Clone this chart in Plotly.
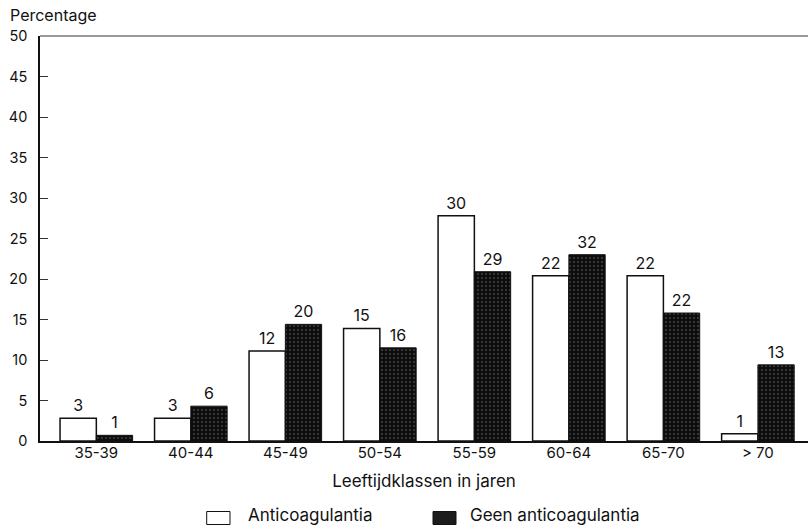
import plotly.graph_objects as go

# Age classes (years)
categories = ["35-39", "40-44", "45-49", "50-54", "55-59", "60-64", "65-70", "> 70"]

# Series names
series_names = ["Anticoagulantia", "Geen anticoagulantia"]

# Percentage of patients per age class
pct_anti = [2.8, 2.8, 11.1, 13.9, 27.8, 20.4, 20.4, 0.9]
pct_geen = [0.7, 4.3, 14.4, 11.5, 20.9, 23.0, 15.8, 9.4]

# Number of patients per age class (printed above the bars)
n_anti = [3, 3, 12, 15, 30, 22, 22, 1]
n_geen = [1, 6, 20, 16, 29, 32, 22, 13]

y_ticks = [0, 5, 10, 15, 20, 25, 30, 35, 40, 45, 50]

FONT = "Inter, Liberation Sans, Arial, sans-serif"
W, H = 808, 526
L, R, T, B = 40, 0, 36, 85
PW, PH = W - L - R, H - T - B


def px_x(px):
    return (px - L) / PW


def px_y(py):
    return (H - B - py) / PH


fig = go.Figure()

fig.add_trace(go.Bar(
    x=categories, y=pct_anti, name=series_names[0],
    text=[str(v) for v in n_anti], textposition="outside",
    textfont=dict(family=FONT, size=16, color="#111"),
    marker=dict(color="white", line=dict(color="#111", width=1.5)),
    cliponaxis=False, constraintext="none",
))
fig.add_trace(go.Bar(
    x=categories, y=pct_geen, name=series_names[1],
    text=[str(v) for v in n_geen], textposition="outside",
    textfont=dict(family=FONT, size=16, color="#111"),
    marker=dict(color="#111", line=dict(color="#111", width=1),
                pattern=dict(shape=".", fgcolor="#dddddd", bgcolor="#0d0d0d",
                             size=4, solidity=0.1)),
    cliponaxis=False, constraintext="none",
))

fig.update_layout(
    width=W, height=H,
    margin=dict(l=L, r=R, t=T, b=B, pad=0),
    paper_bgcolor="white", plot_bgcolor="white",
    barmode="group", bargap=0.232, bargroupgap=0,
    showlegend=False,
    font=dict(family=FONT, color="#111"),
    xaxis=dict(
        type="category", range=[-0.596, 7.53],
        showline=True, linecolor="#111", linewidth=1.5,
        showgrid=False, ticks="", zeroline=False,
        tickfont=dict(size=15, family=FONT, color="#111"),
        ticklabelstandoff=-3,
        title=dict(text="Leeftijdklassen in jaren",
                   font=dict(size=17, family=FONT, color="#111"),
                   standoff=14),
    ),
    yaxis=dict(
        range=[0, 50], tickvals=y_ticks,
        showline=True, linecolor="#111", linewidth=1.5,
        showgrid=False, zeroline=False,
        ticks="inside", ticklen=8, tickcolor="#333", tickwidth=1,
        tickfont=dict(size=14.5, family=FONT, color="#111"),
        ticklabelstandoff=8,
    ),
)

# top frame line
fig.add_shape(type="line", xref="paper", yref="paper",
              x0=0, x1=1, y0=1, y1=1,
              line=dict(color="#777", width=1.5))

# y-axis caption
fig.add_annotation(text="Percentage", xref="paper", yref="paper",
                   x=px_x(8), y=px_y(15), xanchor="left", yanchor="middle",
                   showarrow=False, font=dict(size=16, family=FONT, color="#111"))

# legend below the axis title
legend_items = [
    (series_names[0], 206.7, 230.0, "white", 245.7),
    (series_names[1], 433.0, 456.0, "#1c1c1c", 468.3),
]
for name, x0, x1, fill, tx in legend_items:
    fig.add_shape(type="rect", xref="paper", yref="paper",
                  x0=px_x(x0), x1=px_x(x1), y0=px_y(511.5), y1=px_y(524.5),
                  fillcolor=fill, line=dict(color="#111", width=1))
    fig.add_annotation(text=name, xref="paper", yref="paper",
                       x=px_x(tx), y=px_y(515), xanchor="left", yanchor="middle",
                       showarrow=False,
                       font=dict(size=17, family=FONT, color="#111"))

fig.write_html("out.html")
